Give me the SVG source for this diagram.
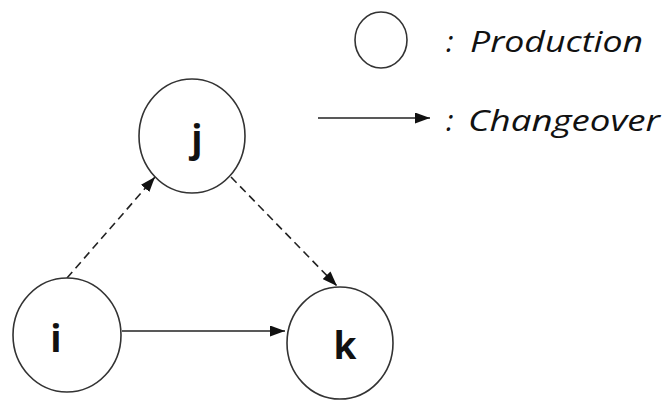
<svg xmlns="http://www.w3.org/2000/svg" width="665" height="402" viewBox="0 0 665 402">
<style>
.node{fill:#fff;stroke:#333;stroke-width:1.6}
.lbl{font-family:"Open Sans","Liberation Sans",sans-serif;font-weight:bold;font-size:37px;fill:#111;text-anchor:middle}
.leg{font-family:"Open Sans","Liberation Sans",sans-serif;font-style:italic;font-size:30px;fill:#111}
.edge{stroke:#222;stroke-width:1.6;fill:none}
.dash{stroke-dasharray:8 5}
</style>
<defs>
<marker id="ah" viewBox="0 0 15 11" refX="15" refY="5.5" markerWidth="15" markerHeight="11" markerUnits="userSpaceOnUse" orient="auto">
<path d="M0,0 L15,5.5 L0,11 Z" fill="#111"/>
</marker>
</defs>
<g id="connectors">
<line class="edge" x1="122" y1="331" x2="285" y2="331" marker-end="url(#ah)"/>
<line class="edge dash" x1="67" y1="278" x2="155" y2="177" marker-end="url(#ah)"/>
<line class="edge dash" x1="231" y1="177" x2="337" y2="286" marker-end="url(#ah)"/>
<line class="edge" x1="318" y1="118" x2="430" y2="118" marker-end="url(#ah)"/>
</g>
<g id="node-j">
<ellipse class="node" cx="192" cy="136" rx="53" ry="57"/>
<text class="lbl" x="197" y="152">j</text>
</g>
<g id="node-i">
<ellipse class="node" cx="67" cy="335" rx="54" ry="57"/>
<text class="lbl" x="56" y="352">i</text>
</g>
<g id="node-k">
<ellipse class="node" cx="340" cy="343" rx="53" ry="56"/>
<text class="lbl" x="345" y="359">k</text>
</g>
<g id="legend">
<ellipse class="node" cx="381" cy="40" rx="26" ry="28"/>
<text class="leg" y="52"><tspan x="446">: </tspan><tspan x="470" textLength="173" lengthAdjust="spacingAndGlyphs">Production</tspan></text>
<text class="leg" y="131"><tspan x="446">: </tspan><tspan x="468" textLength="192" lengthAdjust="spacingAndGlyphs">Changeover</tspan></text>
</g>
</svg>
